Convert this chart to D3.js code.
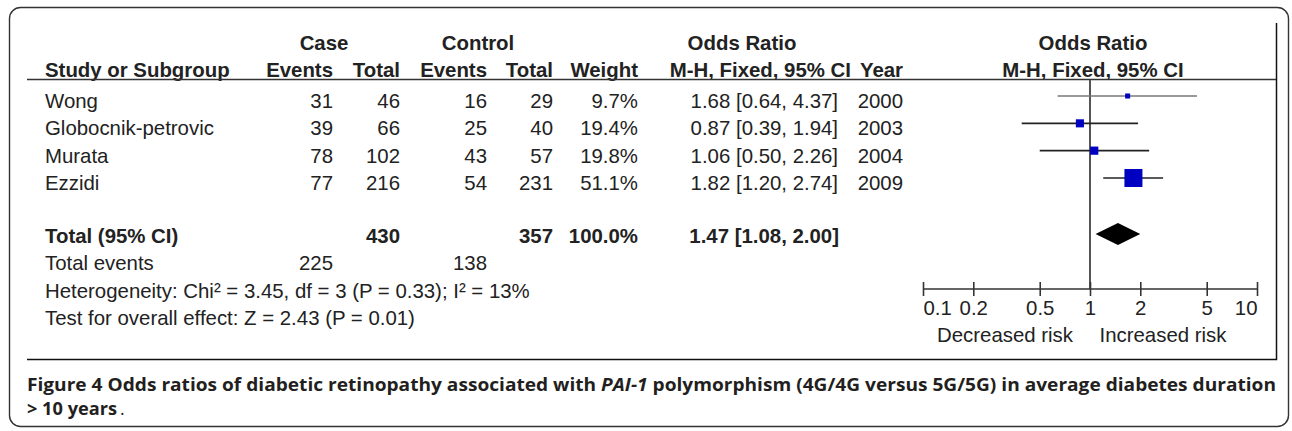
<!DOCTYPE html>
<html>
<head>
<meta charset="utf-8">
<script src="https://cdn.jsdelivr.net/npm/d3@7"></script>
<style>
  body { margin: 0; background: #fff; }
  svg text { font-family: "Liberation Sans", Arial, sans-serif; fill: #222; }
  .cap { font-family: "Open Sans", sans-serif; fill: #231f20; }
</style>
</head>
<body>
<svg width="1292" height="431"></svg>
<script>
// data
const studies = ["Wong", "Globocnik-petrovic", "Murata", "Ezzidi"];
const caseEvents = [31, 39, 78, 77];
const caseTotal = [46, 66, 102, 216];
const ctrlEvents = [16, 25, 43, 54];
const ctrlTotal = [29, 40, 57, 231];
const weights = [9.7, 19.4, 19.8, 51.1];
const orValue = [1.68, 0.87, 1.06, 1.82];
const orLow = [0.64, 0.39, 0.50, 1.20];
const orHigh = [4.37, 1.94, 2.26, 2.74];
const years = [2000, 2003, 2004, 2009];
const pooled = {or: 1.47, low: 1.08, high: 2.00};
const totals = {caseTotal: 430, ctrlTotal: 357, weight: "100.0%", caseEvents: 225, ctrlEvents: 138};
const axisTicks = [0.1, 0.2, 0.5, 1, 2, 5, 10];

const svg = d3.select("svg");
const fs = 20.4;

// outer rounded frame + inner image border
svg.append("rect")
  .attr("x", 9.5).attr("y", 7.5).attr("width", 1279).attr("height", 419)
  .attr("rx", 11).attr("fill", "none").attr("stroke", "#333").attr("stroke-width", 1.4);
svg.append("path")
  .attr("d", "M27,359.5H1276.5V23")
  .attr("fill", "none").attr("stroke", "#111").attr("stroke-width", 1.5);

// row positions (baselines)
const rowY = d3.scalePoint().domain(studies).range([108, 190]);
const sumY = d3.scalePoint().domain(["total", "events", "het", "test"]).range([243, 325]);

// columns: right edges of numeric columns
const col = {study: 45, caseEv: 333, caseTot: 400, ctrlEv: 487, ctrlTot: 553, weight: 638, or: 838, year: 903};

function txt(x, y, s, anchor, bold) {
  return svg.append("text").attr("x", x).attr("y", y)
    .attr("text-anchor", anchor || "start")
    .style("font-size", fs + "px")
    .style("font-weight", bold ? "bold" : "normal")
    .text(s);
}

// headers
txt(324, 50, "Case", "middle", true);
txt(478, 50, "Control", "middle", true);
txt(742, 50, "Odds Ratio", "middle", true);
txt(1093, 50, "Odds Ratio", "middle", true);
txt(col.study, 77, "Study or Subgroup", "start", true);
txt(col.caseEv, 77, "Events", "end", true);
txt(col.caseTot, 77, "Total", "end", true);
txt(col.ctrlEv, 77, "Events", "end", true);
txt(col.ctrlTot, 77, "Total", "end", true);
txt(col.weight, 77, "Weight", "end", true);
txt(851, 77, "M-H, Fixed, 95% CI", "end", true);
txt(col.year, 77, "Year", "end", true);
txt(1093, 77, "M-H, Fixed, 95% CI", "middle", true);

svg.append("line").attr("x1", 27).attr("x2", 1276).attr("y1", 79.5).attr("y2", 79.5)
  .attr("stroke", "#333").attr("stroke-width", 1.6);

// study rows
studies.forEach((s, i) => {
  const y = rowY(s);
  txt(col.study, y, s);
  txt(col.caseEv, y, caseEvents[i], "end");
  txt(col.caseTot, y, caseTotal[i], "end");
  txt(col.ctrlEv, y, ctrlEvents[i], "end");
  txt(col.ctrlTot, y, ctrlTotal[i], "end");
  txt(col.weight, y, weights[i].toFixed(1) + "%", "end");
  txt(col.or, y, `${orValue[i].toFixed(2)} [${orLow[i].toFixed(2)}, ${orHigh[i].toFixed(2)}]`, "end");
  txt(col.year, y, years[i], "end");
});

// summary rows
txt(col.study, sumY("total"), "Total (95% CI)", "start", true);
txt(col.caseTot, sumY("total"), totals.caseTotal, "end", true);
txt(col.ctrlTot, sumY("total"), totals.ctrlTotal, "end", true);
txt(col.weight, sumY("total"), totals.weight, "end", true);
txt(col.or + 1, sumY("total"), `${pooled.or.toFixed(2)} [${pooled.low.toFixed(2)}, ${pooled.high.toFixed(2)}]`, "end", true);
txt(col.study, sumY("events"), "Total events");
txt(col.caseEv, sumY("events"), totals.caseEvents, "end");
txt(col.ctrlEv, sumY("events"), totals.ctrlEvents, "end");
txt(col.study, sumY("het"), "Heterogeneity: Chi\u00b2 = 3.45, df = 3 (P = 0.33); I\u00b2 = 13%");
txt(col.study, sumY("test"), "Test for overall effect: Z = 2.43 (P = 0.01)");

// forest plot
const x = d3.scaleLog().domain([0.1, 10]).range([923, 1257]);
const size = d3.scaleLinear().domain([0, d3.max(weights)]).range([2, 18]);
const axisY = 289;

svg.append("line")
  .attr("x1", x(1)).attr("x2", x(1)).attr("y1", 80).attr("y2", axisY)
  .attr("stroke", "#555").attr("stroke-width", 2);

const g = svg.append("g");
studies.forEach((s, i) => {
  const cy = rowY(s) - 12;
  g.append("line")
    .attr("x1", x(orLow[i])).attr("x2", x(orHigh[i]))
    .attr("y1", cy).attr("y2", cy)
    .attr("stroke", i === 0 ? "#777" : "#222").attr("stroke-width", 1.6);
  const w = size(weights[i]);
  g.append("rect")
    .attr("x", x(orValue[i]) - w / 2).attr("y", cy - w / 2)
    .attr("width", w).attr("height", w)
    .attr("fill", "#0000c0");
});

const dy = sumY("total") - 9;
svg.append("path")
  .attr("d", `M${x(pooled.low)},${dy}L${x(pooled.or)},${dy - 11}L${x(pooled.high)},${dy}L${x(pooled.or)},${dy + 11}Z`)
  .attr("fill", "#000");

const axis = svg.append("g").attr("transform", `translate(0,${axisY})`)
  .call(d3.axisBottom(x).tickValues(axisTicks).tickFormat(d3.format("")).tickSize(7).tickSizeOuter(0));
axis.select(".domain").attr("stroke", "#333").attr("stroke-width", 1.6).attr("d", `M${x(0.1)},0H${x(10)}`);
axis.selectAll(".tick line").attr("y1", -7).attr("y2", 7).attr("stroke", "#333").attr("stroke-width", 1.6);
axis.selectAll(".tick text").attr("y", 12).attr("dy", "0.71em")
  .attr("text-anchor", (d, i) => i === 0 ? "start" : i === axisTicks.length - 1 ? "end" : "middle")
  .style("font-size", fs + "px").style("font-family", "Liberation Sans, Arial, sans-serif").attr("fill", "#222");

txt(1005, 342, "Decreased risk", "middle");
txt(1163, 342, "Increased risk", "middle");

// caption
const cap1 = svg.append("text").attr("class", "cap").attr("x", 27).attr("y", 391)
  .style("font-size", "17.5px").style("font-weight", "bold")
  .attr("textLength", 1249).attr("lengthAdjust", "spacingAndGlyphs");
cap1.append("tspan").text("Figure 4 Odds ratios of diabetic retinopathy associated with ");
cap1.append("tspan").style("font-style", "italic").text("PAI-1");
cap1.append("tspan").text(" polymorphism (4G/4G versus 5G/5G) in average diabetes duration");

svg.append("text").attr("class", "cap").attr("x", 27).attr("y", 415)
  .style("font-size", "17.5px").style("font-weight", "bold")
  .attr("textLength", 90).attr("lengthAdjust", "spacingAndGlyphs")
  .text("> 10 years");
svg.append("text").attr("class", "cap").attr("x", 120).attr("y", 415)
  .style("font-size", "17.5px")
  .text(".");
</script>
</body>
</html>
